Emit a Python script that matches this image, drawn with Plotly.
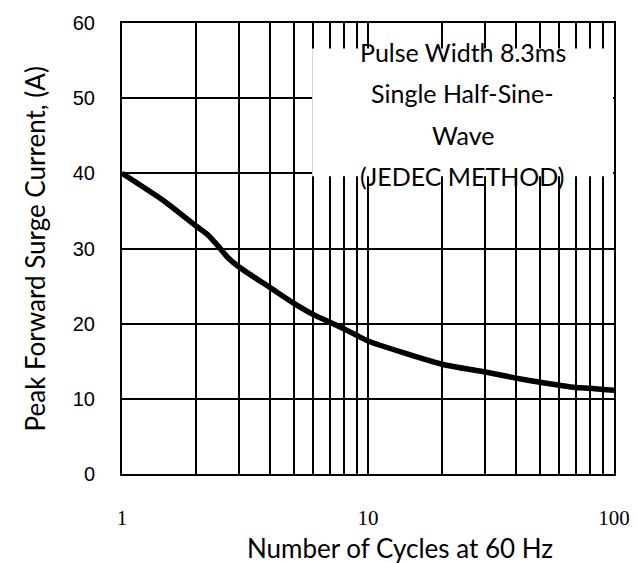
import plotly.graph_objects as go

# Data
cycles = [1.0, 1.5, 2, 2.22, 2.44, 2.69, 3, 4, 5, 6, 7, 8, 9, 10, 20, 30, 40, 50, 60, 70, 80, 90, 100]
current = [40.0, 36.2, 33.0, 31.9, 30.45, 28.8, 27.5, 24.8, 22.7, 21.2, 20.2, 19.3, 18.45, 17.7,
           14.6, 13.56, 12.76, 12.2, 11.8, 11.5, 11.4, 11.25, 11.15]

x_tick_vals = [1, 10, 100]
x_tick_text = ["1", "10", "100"]
x_minor_vals = [2, 3, 4, 5, 6, 7, 8, 9, 20, 30, 40, 50, 60, 70, 80, 90]
y_tick_vals = [0, 10, 20, 30, 40, 50, 60]

box_lines = ["Pulse Width 8.3ms", "Single Half-Sine-", "Wave", "(JEDEC METHOD)"]

x_title = "Number of Cycles at 60 Hz"
y_title = "Peak Forward Surge Current, (A)"

TEXT_FONT = "Lato"

fig = go.Figure()
fig.add_trace(go.Scatter(
    x=cycles, y=current, mode="lines",
    line=dict(color="black", width=5.5, shape="spline", smoothing=0.6),
    showlegend=False, hoverinfo="skip",
))

fig.update_layout(
    width=637, height=563,
    margin=dict(l=114, r=31, t=15, b=97),
    paper_bgcolor="white", plot_bgcolor="white",
    showlegend=False,
    xaxis=dict(
        type="log", range=[0, 2], automargin=False,
        tickvals=x_tick_vals, ticktext=x_tick_text,
        showgrid=True, gridcolor="black", gridwidth=2,
        minor=dict(tickvals=x_minor_vals, showgrid=True, gridcolor="black", gridwidth=2, ticks=""),
        showline=True, linecolor="black", linewidth=2, mirror=True,
        ticks="", ticklabelstandoff=24,
        tickfont=dict(family="Liberation Serif, Times New Roman, serif", size=21, color="black"),
        zeroline=False,
    ),
    yaxis=dict(
        range=[0, 60], tickvals=y_tick_vals, automargin=False,
        showgrid=True, gridcolor="black", gridwidth=2,
        showline=True, linecolor="black", linewidth=2, mirror=True,
        ticks="", ticklabelstandoff=21,
        tickfont=dict(family="Liberation Sans, Arial, sans-serif", size=20, color="black"),
        zeroline=False,
    ),
)

# White text box covering part of the grid
fig.add_shape(type="rect", xref="x", yref="y",
              x0=5.93, x1=99.0, y0=39.6, y1=56.6,
              fillcolor="white", line=dict(width=0), layer="above")

line_y = [56.2, 50.7, 45.15, 39.65]
for txt, yy in zip(box_lines, line_y):
    fig.add_annotation(text=txt, xref="paper", yref="y", x=0.693, y=yy,
                       showarrow=False, xanchor="center", yanchor="middle",
                       font=dict(family=TEXT_FONT, size=25, color="black"))

fig.add_annotation(text=x_title, xref="paper", yref="paper", x=0.565, y=-0.163,
                   showarrow=False, xanchor="center", yanchor="middle", borderpad=0,
                   font=dict(family=TEXT_FONT, size=26, color="black"))
fig.add_annotation(text=y_title, xref="paper", yref="paper", x=-0.177, y=0.5,
                   showarrow=False, xanchor="center", yanchor="middle", textangle=-90,
                   font=dict(family=TEXT_FONT, size=26, color="black"))

fig.write_html("out.html")
